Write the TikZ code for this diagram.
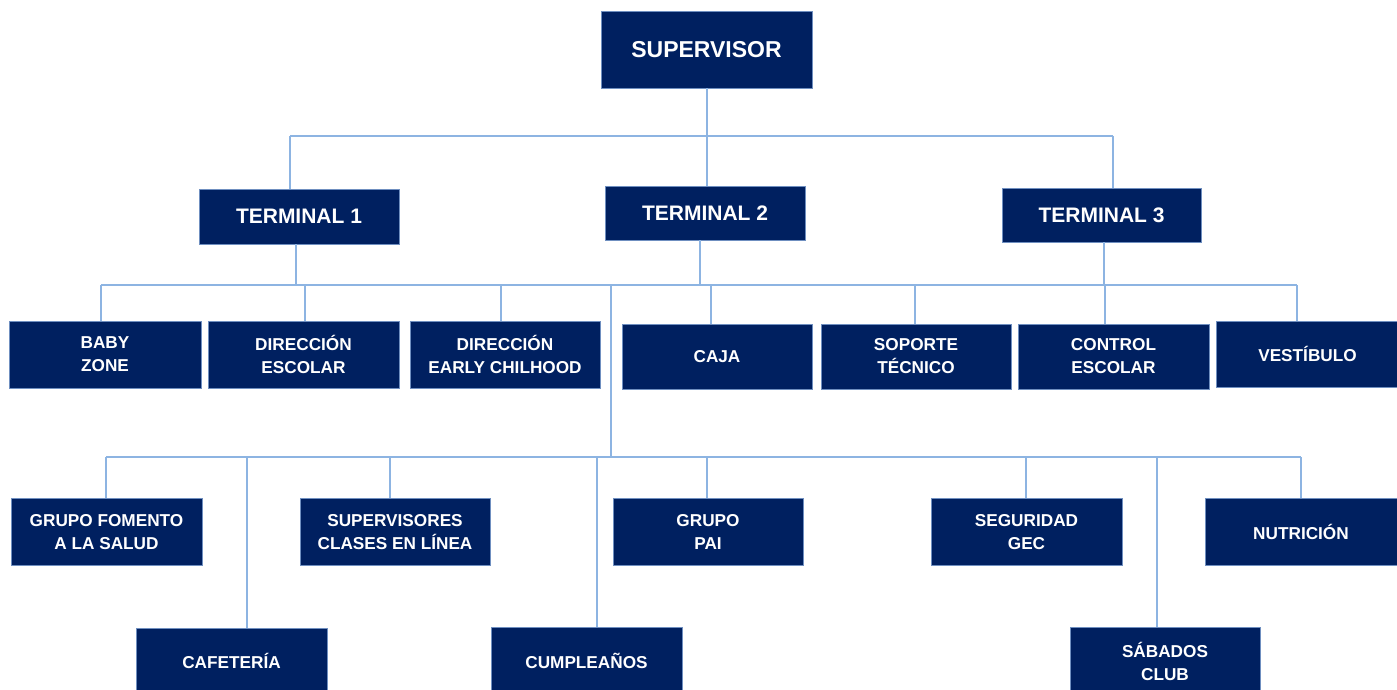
\documentclass[tikz,border=0pt]{standalone}
\usepackage{fontspec}
\setmainfont{Liberation Sans}
\usetikzlibrary{calc}
\definecolor{navy}{HTML}{002060}
\definecolor{linkblue}{HTML}{8DB4E2}
\definecolor{edgeblue}{HTML}{6F8FC0}
\tikzset{
  box/.style={fill=navy, draw=edgeblue, line width=0.8pt, text=white, align=center, inner sep=0pt},
  bigbox/.style={box, font=\fontsize{23}{27}\selectfont\bfseries},
  termbox/.style={box, font=\fontsize{21}{25}\selectfont\bfseries},
  unitbox/.style={box, minimum width=191, minimum height=67, font=\fontsize{17.2}{23}\selectfont\bfseries},
  conn/.style={draw=linkblue, line width=1.5pt}
}
\begin{document}
\begin{tikzpicture}[x=1pt,y=-1pt]
\useasboundingbox[fill=white] (0,0) rectangle (1397,690);
% level 0
\node[bigbox, minimum width=211, minimum height=77] (sup) at (706.5,49.5) {SUPERVISOR};
% level 1
\node[termbox, minimum width=200, minimum height=55] (t1) at (299,216.5) {TERMINAL 1};
\node[termbox, minimum width=200, minimum height=54] (t2) at (705,213) {TERMINAL 2};
\node[termbox, minimum width=199, minimum height=54] (t3) at (1101.5,215) {TERMINAL 3};
% level 2
\node[unitbox, minimum width=192] (baby) at (105,354.5) {BABY\\ZONE};
\node[unitbox] (desc) at (303.5,354.5) {DIRECCIÓN\\ESCOLAR};
\node[unitbox, minimum width=190] (early) at (505,354.5) {DIRECCIÓN\\EARLY CHILHOOD};
\node[unitbox, minimum width=190, minimum height=65] (caja) at (717,356.5) {CAJA};
\node[unitbox, minimum width=190, minimum height=65] (sop) at (916,356.5) {SOPORTE\\TÉCNICO};
\node[unitbox, minimum height=65] (ctrl) at (1113.5,356.5) {CONTROL\\ESCOLAR};
\node[unitbox, minimum width=183, minimum height=66] (vest) at (1307.5,354) {VESTÍBULO};
% level 3
\node[unitbox] (fom) at (106.5,532) {GRUPO FOMENTO\\A LA SALUD};
\node[unitbox, minimum width=190] (supcl) at (395,532) {SUPERVISORES\\CLASES EN LÍNEA};
\node[unitbox, minimum width=190] (pai) at (708,532) {GRUPO\\PAI};
\node[unitbox] (seg) at (1026.5,532) {SEGURIDAD\\GEC};
\node[unitbox, minimum width=192] (nut) at (1301,532) {NUTRICIÓN};
\node[unitbox, minimum height=66] (caf) at (231.5,661) {CAFETERÍA};
\node[unitbox] (cump) at (586.5,661) {CUMPLEAÑOS};
\node[unitbox, minimum width=190] (sab) at (1165,661) {SÁBADOS\\CLUB};
% buses
\coordinate (b0L) at (290,136);
\coordinate (b0R) at (1113,136);
\coordinate (b1L) at (101,285);
\coordinate (b1R) at (1297,285);
\coordinate (b1M) at (611,285);
\coordinate (b2L) at (106,457);
\coordinate (b2R) at (1301,457);
\coordinate (b2M) at (611,457);
% level 0 -> 1
\draw[conn] (b0L) -- (b0R);
\draw[conn] ([xshift=0.5]sup.south) -- ([xshift=0.5]sup.south |- b0L);
\draw[conn] (b0L) -- (t1.north -| b0L);
\draw[conn] ([xshift=2]t2.north) -- ([xshift=2]t2.north |- b0L);
\draw[conn] (b0R) -- (t3.north -| b0R);
% level 1 -> 2
\draw[conn] (b1L) -- (b1R);
\draw[conn] ([xshift=-3]t1.south) -- ([xshift=-3]t1.south |- b1L);
\draw[conn] ([xshift=-5]t2.south) -- ([xshift=-5]t2.south |- b1L);
\draw[conn] ([xshift=2.5]t3.south) -- ([xshift=2.5]t3.south |- b1L);
\draw[conn] ([xshift=-4]baby.north) -- ([xshift=-4]baby.north |- b1L);
\draw[conn] ([xshift=1.5]desc.north) -- ([xshift=1.5]desc.north |- b1L);
\draw[conn] ([xshift=-4]early.north) -- ([xshift=-4]early.north |- b1L);
\draw[conn] ([xshift=-6]caja.north) -- ([xshift=-6]caja.north |- b1L);
\draw[conn] ([xshift=-1]sop.north) -- ([xshift=-1]sop.north |- b1L);
\draw[conn] ([xshift=-8.5]ctrl.north) -- ([xshift=-8.5]ctrl.north |- b1L);
\draw[conn] ([xshift=-10.5]vest.north) -- ([xshift=-10.5]vest.north |- b1L);
% level 2 -> 3
\draw[conn] (b1M) -- (b2M);
\draw[conn] (b2L) -- (b2R);
\draw[conn] ([xshift=-0.5]fom.north) -- ([xshift=-0.5]fom.north |- b2L);
\draw[conn] ([xshift=-5]supcl.north) -- ([xshift=-5]supcl.north |- b2L);
\draw[conn] ([xshift=-1]pai.north) -- ([xshift=-1]pai.north |- b2L);
\draw[conn] ([xshift=-0.5]seg.north) -- ([xshift=-0.5]seg.north |- b2L);
\draw[conn] (nut.north) -- (nut.north |- b2L);
\draw[conn] ([xshift=15.5]caf.north) -- ([xshift=15.5]caf.north |- b2L);
\draw[conn] ([xshift=10.5]cump.north) -- ([xshift=10.5]cump.north |- b2L);
\draw[conn] ([xshift=-8]sab.north) -- ([xshift=-8]sab.north |- b2L);
\end{tikzpicture}
\end{document}
